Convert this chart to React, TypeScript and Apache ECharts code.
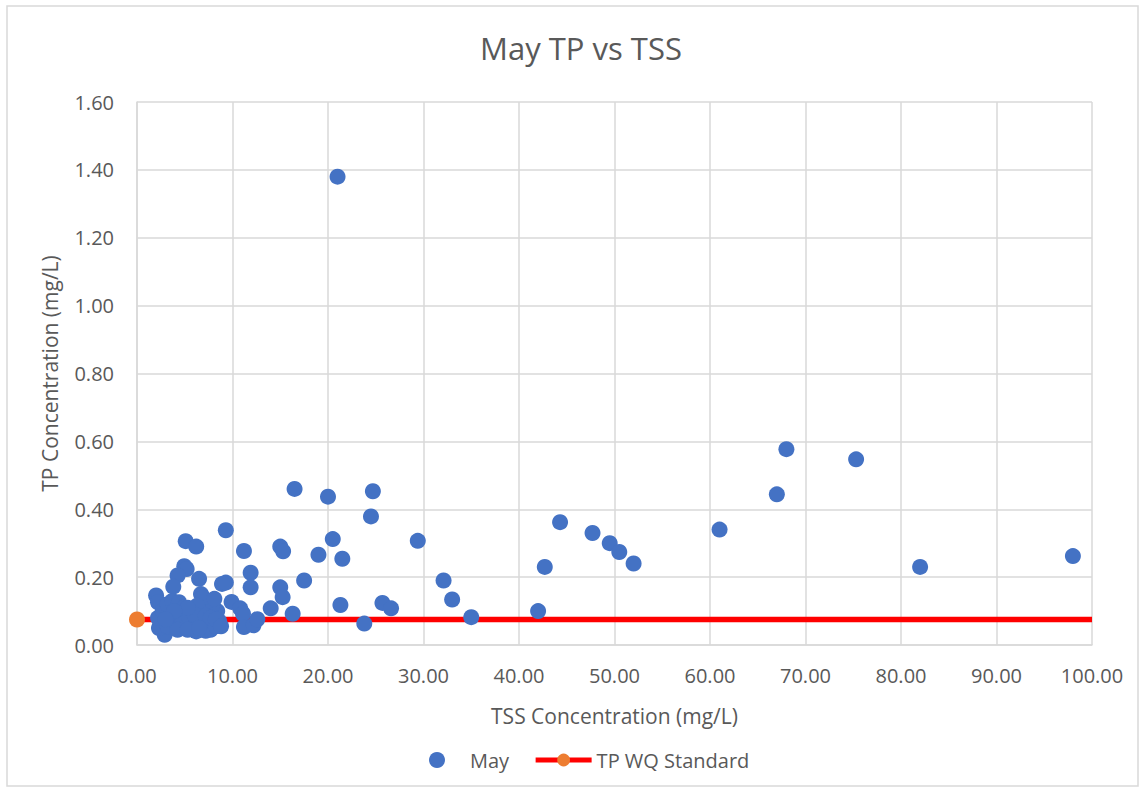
import React, { useEffect, useRef } from "react";
import * as echarts from "echarts";

const chartTitle = "May TP vs TSS";
const xAxisName = "TSS Concentration (mg/L)";
const yAxisName = "TP Concentration (mg/L)";
const seriesNames = ["May", "TP WQ Standard"];

const tssValues = [
  21.0, 16.5, 20.0, 24.7, 24.5, 15.0, 15.3, 20.5, 19.0, 21.5, 29.4, 15.0, 15.25, 17.5, 14.0, 16.3, 21.3, 23.8,
  25.7, 26.6, 32.1, 33.0, 35.0, 42.0, 42.7, 44.3, 47.7, 49.5, 50.5, 52.0, 61.0, 67.0, 68.0, 75.3, 82.0, 98.0,
  9.3, 5.1, 6.2, 11.2, 11.9, 11.9, 4.95, 5.2, 4.25, 3.8, 6.5, 2.0, 2.2, 8.9, 9.3, 6.7, 9.9, 10.8, 11.1, 11.2,
  12.2, 12.6, 2.9, 2.3, 2.2, 2.7, 3.2, 3.7, 4.4, 4.9, 4.25, 3.55, 4.6, 5.5, 5.8, 6.2, 6.7, 7.2, 7.7, 8.25, 8.6,
  8.4, 7.9, 7.4, 6.9, 6.3, 6.0, 7.2, 7.7, 5.3, 3.9, 3.2, 4.25, 5.3, 6.5, 8.25, 8.8, 3.0, 8.1,
];
const tpValues = [
  1.38, 0.46, 0.437, 0.453, 0.379, 0.29, 0.276, 0.312, 0.266, 0.254, 0.307, 0.17, 0.141, 0.19, 0.108, 0.092, 0.118, 0.063,
  0.124, 0.108, 0.19, 0.134, 0.082, 0.1, 0.23, 0.362, 0.33, 0.3, 0.274, 0.24, 0.34, 0.444, 0.577, 0.547, 0.23, 0.262,
  0.338, 0.306, 0.29, 0.277, 0.213, 0.17, 0.232, 0.224, 0.205, 0.172, 0.195, 0.146, 0.126, 0.18, 0.184, 0.15, 0.127, 0.108, 0.092, 0.053,
  0.058, 0.076, 0.03, 0.05, 0.08, 0.1, 0.12, 0.13, 0.126, 0.11, 0.086, 0.07, 0.06, 0.08, 0.05, 0.04, 0.06, 0.042, 0.045, 0.055, 0.07,
  0.1, 0.12, 0.13, 0.14, 0.116, 0.09, 0.086, 0.08, 0.11, 0.1, 0.055, 0.045, 0.045, 0.05, 0.075, 0.055, 0.076, 0.136,
];
const standardX = [0, 100];
const standardY = [0.075, 0.075];

const FONT = "'Open Sans', sans-serif";
const TEXT = "#595959";
const GRID = "#d9d9d9";

export default function App() {
  const ref = useRef<HTMLDivElement>(null);
  useEffect(() => {
    if (!ref.current) return;
    const chart = echarts.init(ref.current, null, { renderer: "svg" });
    const scatterData = tssValues.map((x, i) => [x, tpValues[i]]);
    const lineData = standardX.map((x, i) =>
      i === 0 ? { value: [x, standardY[i]] } : { value: [x, standardY[i]], symbol: "none" }
    );
    chart.setOption({
      animation: false,
      backgroundColor: "#ffffff",
      textStyle: { fontFamily: FONT },
      title: {
        text: chartTitle,
        left: 576,
        textAlign: "center",
        top: 27,
        textStyle: { fontFamily: FONT, fontSize: 31, fontWeight: "normal", color: TEXT },
      },
      graphic: [
        {
          type: "rect",
          shape: { x: 7, y: 6, width: 1131, height: 780 },
          style: { fill: "none", stroke: GRID, lineWidth: 1.5 },
          silent: true,
        },
      ],
      legend: {
        left: 424,
        top: 745,
        itemWidth: 56,
        itemHeight: 16,
        itemGap: 24,
        data: seriesNames,
        lineStyle: { width: 5 },
        textStyle: { fontFamily: FONT, fontSize: 20, color: TEXT },
      },
      grid: { left: 137, right: 48, top: 102, bottom: 142, containLabel: false },
      xAxis: {
        type: "value",
        min: 0,
        max: 100,
        interval: 10,
        name: xAxisName,
        nameLocation: "middle",
        nameGap: 60,
        nameTextStyle: { fontFamily: FONT, fontSize: 21, color: TEXT },
        axisLine: { show: true, lineStyle: { color: GRID, width: 1.5 } },
        axisTick: { show: false },
        axisLabel: {
          fontFamily: FONT,
          fontSize: 20,
          color: TEXT,
          margin: 20,
          formatter: (v: number) => v.toFixed(2),
        },
        splitLine: { show: true, lineStyle: { color: GRID, width: 1.5 } },
      },
      yAxis: {
        type: "value",
        min: 0,
        max: 1.6,
        interval: 0.2,
        name: yAxisName,
        nameLocation: "middle",
        nameGap: 77,
        nameRotate: 90,
        nameTextStyle: { fontFamily: FONT, fontSize: 21, color: TEXT },
        axisLine: { show: true, lineStyle: { color: GRID, width: 1.5 } },
        axisTick: { show: false },
        axisLabel: {
          fontFamily: FONT,
          fontSize: 20,
          color: TEXT,
          margin: 23,
          formatter: (v: number) => v.toFixed(2),
        },
        splitLine: { show: true, lineStyle: { color: GRID, width: 1.5 } },
      },
      series: [
        {
          name: seriesNames[0],
          type: "scatter",
          data: scatterData,
          symbol: "circle",
          symbolSize: 16,
          itemStyle: { color: "#4472C4", opacity: 1 },
          z: 3,
        },
        {
          name: seriesNames[1],
          type: "line",
          data: lineData,
          symbol: "circle",
          symbolSize: 16,
          showSymbol: true,
          itemStyle: { color: "#ED7D31", opacity: 1 },
          lineStyle: { color: "#FF0000", width: 5.5 },
          z: 2,
        },
      ],
    });
    return () => chart.dispose();
  }, []);
  return (
    <div
      ref={ref}
      style={{ position: "absolute", left: 0, top: 0, width: 1140, height: 787 }}
    />
  );
}
